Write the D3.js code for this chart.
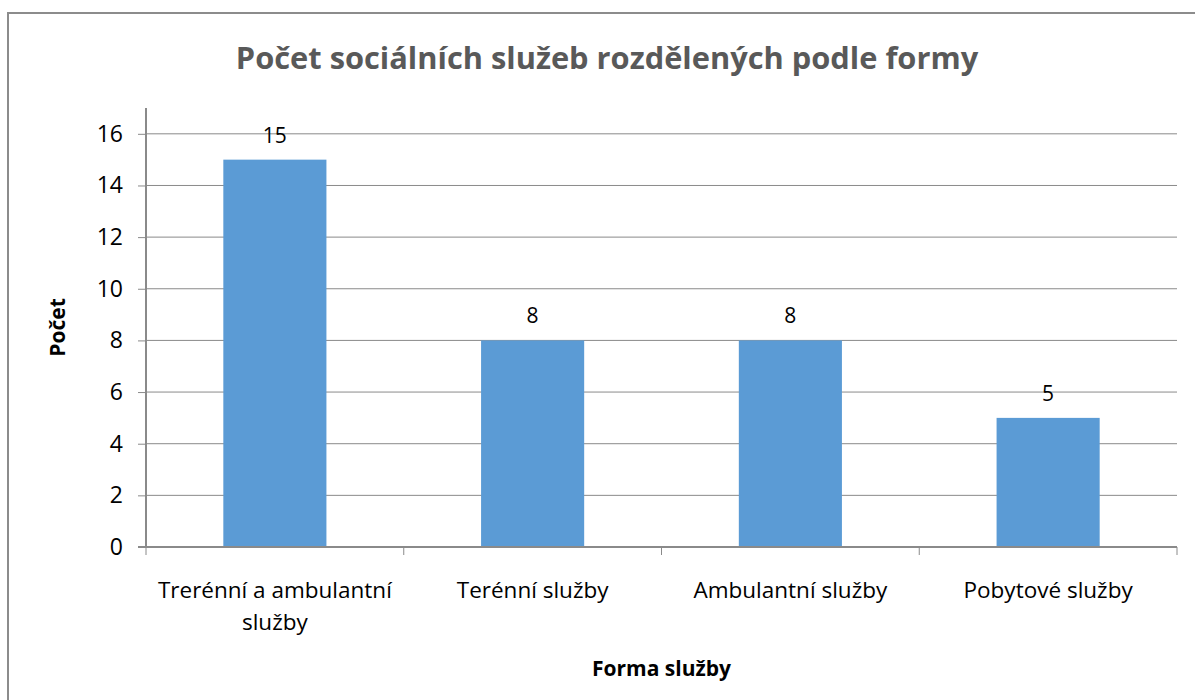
<!DOCTYPE html>
<html>
<head>
<meta charset="utf-8">
<script src="https://cdn.jsdelivr.net/npm/d3@7"></script>
<style>
  body { margin: 0; background: #fff; }
  text { font-family: "Open Sans", sans-serif; }
</style>
</head>
<body>
<script>
const categories = ['Trerénní a ambulantní služby', 'Terénní služby', 'Ambulantní služby', 'Pobytové služby'];
const values = [15, 8, 8, 5];
const yTicks = [0, 2, 4, 6, 8, 10, 12, 14, 16];

const W = 1195, H = 700;
const plot = { left: 146, right: 1177, top: 108, bottom: 547 };

const svg = d3.select('body').append('svg')
    .attr('width', W)
    .attr('height', H);

// outer frame (only top and left are visible in the picture)
svg.append('rect')
    .attr('x', 8).attr('y', 13)
    .attr('width', W + 20).attr('height', H + 20)
    .attr('fill', 'none')
    .attr('stroke', '#8c8c8c')
    .attr('stroke-width', 2);

const x = d3.scaleBand()
    .domain(categories)
    .range([plot.left, plot.right])
    .paddingInner(0.6)
    .paddingOuter(0.3);

const y = d3.scaleLinear()
    .domain([0, 17])
    .range([plot.bottom, plot.top]);

// gridlines
svg.append('g')
    .selectAll('line')
    .data(yTicks.filter(d => d > 0))
    .join('line')
    .attr('x1', plot.left).attr('x2', plot.right)
    .attr('y1', d => y(d)).attr('y2', d => y(d))
    .attr('stroke', '#8a8a8a')
    .attr('stroke-width', 1);

// bars
svg.append('g')
    .selectAll('rect')
    .data(values)
    .join('rect')
    .attr('x', (d, i) => x(categories[i]))
    .attr('y', d => y(d))
    .attr('width', x.bandwidth())
    .attr('height', d => y(0) - y(d))
    .attr('fill', '#5b9bd5');

// value labels
svg.append('g')
    .selectAll('text')
    .data(values)
    .join('text')
    .attr('x', (d, i) => x(categories[i]) + x.bandwidth() / 2)
    .attr('y', d => y(d) - 17)
    .attr('text-anchor', 'middle')
    .attr('font-size', 21)
    .attr('fill', '#000')
    .text(d => d);

// y axis
const yAxis = svg.append('g')
    .attr('transform', 'translate(' + plot.left + ',0)')
    .call(d3.axisLeft(y).tickValues(yTicks).tickSize(8).tickPadding(15));
yAxis.select('.domain').attr('d', 'M0,' + plot.top + 'V' + plot.bottom)
    .attr('stroke', '#8a8a8a').attr('stroke-width', 2);
yAxis.selectAll('.tick line').attr('stroke', '#8a8a8a');
yAxis.selectAll('.tick text')
    .attr('font-size', 23)
    .attr('font-family', '"Open Sans", sans-serif')
    .attr('fill', '#000');

// x axis line + category boundary ticks
const bounds = d3.range(categories.length + 1).map(i => plot.left + i * x.step());
svg.append('line')
    .attr('x1', plot.left - 8).attr('x2', plot.right)
    .attr('y1', y(0)).attr('y2', y(0))
    .attr('stroke', '#8a8a8a')
    .attr('stroke-width', 2);
svg.append('g')
    .selectAll('line')
    .data(bounds)
    .join('line')
    .attr('x1', d => d).attr('x2', d => d)
    .attr('y1', y(0)).attr('y2', y(0) + 8)
    .attr('stroke', '#8a8a8a');

// category labels with wrapping
const catText = svg.append('g')
    .selectAll('text')
    .data(categories)
    .join('text')
    .attr('x', d => x(d) + x.bandwidth() / 2)
    .attr('y', 598)
    .attr('text-anchor', 'middle')
    .attr('font-size', 22.5)
    .attr('fill', '#000');

catText.each(function (d) {
    const t = d3.select(this);
    const words = d.split(' ');
    let line = [];
    let tspan = t.append('tspan').attr('x', t.attr('x')).attr('dy', 0);
    words.forEach(w => {
        line.push(w);
        tspan.text(line.join(' '));
        if (tspan.node().getComputedTextLength() > x.step() - 8 && line.length > 1) {
            line.pop();
            tspan.text(line.join(' '));
            line = [w];
            tspan = t.append('tspan').attr('x', t.attr('x')).attr('dy', 32).text(w);
        }
    });
});

// title
svg.append('text')
    .attr('x', 607)
    .attr('y', 69)
    .attr('text-anchor', 'middle')
    .attr('font-size', 30.8)
    .attr('font-weight', 'bold')
    .attr('fill', '#595959')
    .text('Počet sociálních služeb rozdělených podle formy');

// axis titles
svg.append('text')
    .attr('transform', 'translate(65,' + ((plot.top + plot.bottom) / 2) + ') rotate(-90)')
    .attr('text-anchor', 'middle')
    .attr('font-size', 21)
    .attr('font-weight', 'bold')
    .attr('fill', '#000')
    .text('Počet');

svg.append('text')
    .attr('x', (plot.left + plot.right) / 2)
    .attr('y', 676)
    .attr('text-anchor', 'middle')
    .attr('font-size', 21)
    .attr('font-weight', 'bold')
    .attr('fill', '#000')
    .text('Forma služby');
</script>
</body>
</html>
